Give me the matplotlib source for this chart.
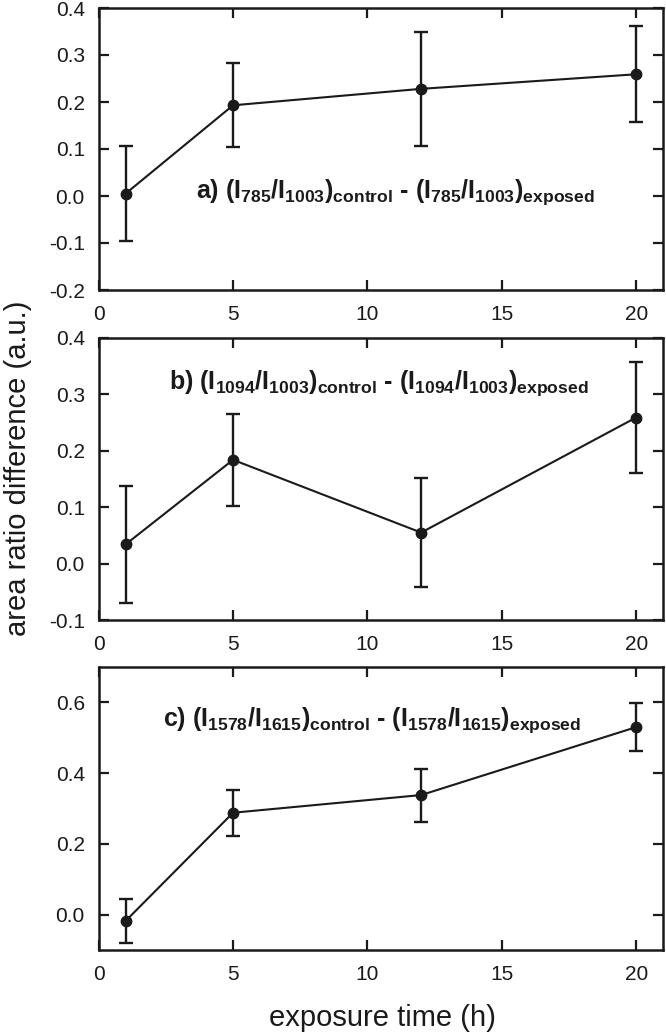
import matplotlib
matplotlib.use("Agg")
import matplotlib.pyplot as plt

plt.rcParams['font.family'] = ['Liberation Sans', 'DejaVu Sans']
plt.rcParams['mathtext.fontset'] = 'custom'
plt.rcParams['mathtext.bf'] = 'Liberation Sans:bold'
plt.rcParams['mathtext.rm'] = 'Liberation Sans:bold'
plt.rcParams['mathtext.default'] = 'bf'

# exposure times (h)
hours = [1, 5, 12, 20]

# a) I785/I1003
diff_a = [0.005, 0.193, 0.228, 0.259]
err_a = [0.101, 0.089, 0.121, 0.102]
# b) I1094/I1003
diff_b = [0.034, 0.184, 0.055, 0.259]
err_b = [0.103, 0.082, 0.097, 0.098]
# c) I1578/I1615
diff_c = [-0.018, 0.288, 0.338, 0.530]
err_c = [0.063, 0.065, 0.075, 0.068]

titles = [r'a) (I$_{785}$/I$_{1003}$)$_{control}$ - (I$_{785}$/I$_{1003}$)$_{exposed}$',
          r'b) (I$_{1094}$/I$_{1003}$)$_{control}$ - (I$_{1094}$/I$_{1003}$)$_{exposed}$',
          r'c) (I$_{1578}$/I$_{1615}$)$_{control}$ - (I$_{1578}$/I$_{1615}$)$_{exposed}$']
title_pos = [(0.525, 0.347), (0.497, 0.84), (0.484, 0.813)]
ylims = [(-0.2, 0.4), (-0.1, 0.4), (-0.1, 0.7)]
yticks = [[-0.2, -0.1, 0.0, 0.1, 0.2, 0.3, 0.4],
          [-0.1, 0.0, 0.1, 0.2, 0.3, 0.4],
          [0.0, 0.2, 0.4, 0.6]]

fig = plt.figure(figsize=(6.66, 10.35), dpi=100)
W, H = 666, 1035
boxes = [(8, 290), (338, 620), (667, 950)]
left, right = 98.7, 663

for i, (d, e) in enumerate([(diff_a, err_a), (diff_b, err_b), (diff_c, err_c)]):
    top, bot = boxes[i]
    ax = fig.add_axes([left / W, 1 - bot / H, (right - left) / W, (bot - top) / H])
    ax.errorbar(hours, d, yerr=e, color='#1a1a1a', lw=1.5, marker='o', ms=7.5,
                capsize=5, capthick=1.7, elinewidth=1.7)
    ax.set_xlim(0, 21)
    ax.set_ylim(*ylims[i])
    ax.set_xticks([0, 5, 10, 15, 20])
    ax.set_yticks(yticks[i])
    ax.set_yticklabels(['%.1f' % v for v in yticks[i]])
    ax.tick_params(direction='in', top=True, right=True, length=7, width=1.6,
                   labelsize=15, colors='#1a1a1a')
    ax.tick_params(axis='y', pad=10)
    ax.tick_params(axis='x', pad=11)
    for s in ax.spines.values():
        s.set_linewidth(1.8)
        s.set_color('#1a1a1a')
    tx, ty = title_pos[i]
    ax.text(tx, ty, titles[i], transform=ax.transAxes, ha='center', va='center',
            fontsize=18, fontweight='bold', color='#1a1a1a')

fig.text(18 / W, 1 - 468 / H, 'area ratio difference (a.u.)', rotation=90,
         ha='center', va='center', fontsize=21, color='#1a1a1a')
fig.text(382 / W, 1 - 1018 / H, 'exposure time (h)', ha='center', va='center',
         fontsize=21, color='#1a1a1a')

fig.savefig('out.png', dpi=100)
